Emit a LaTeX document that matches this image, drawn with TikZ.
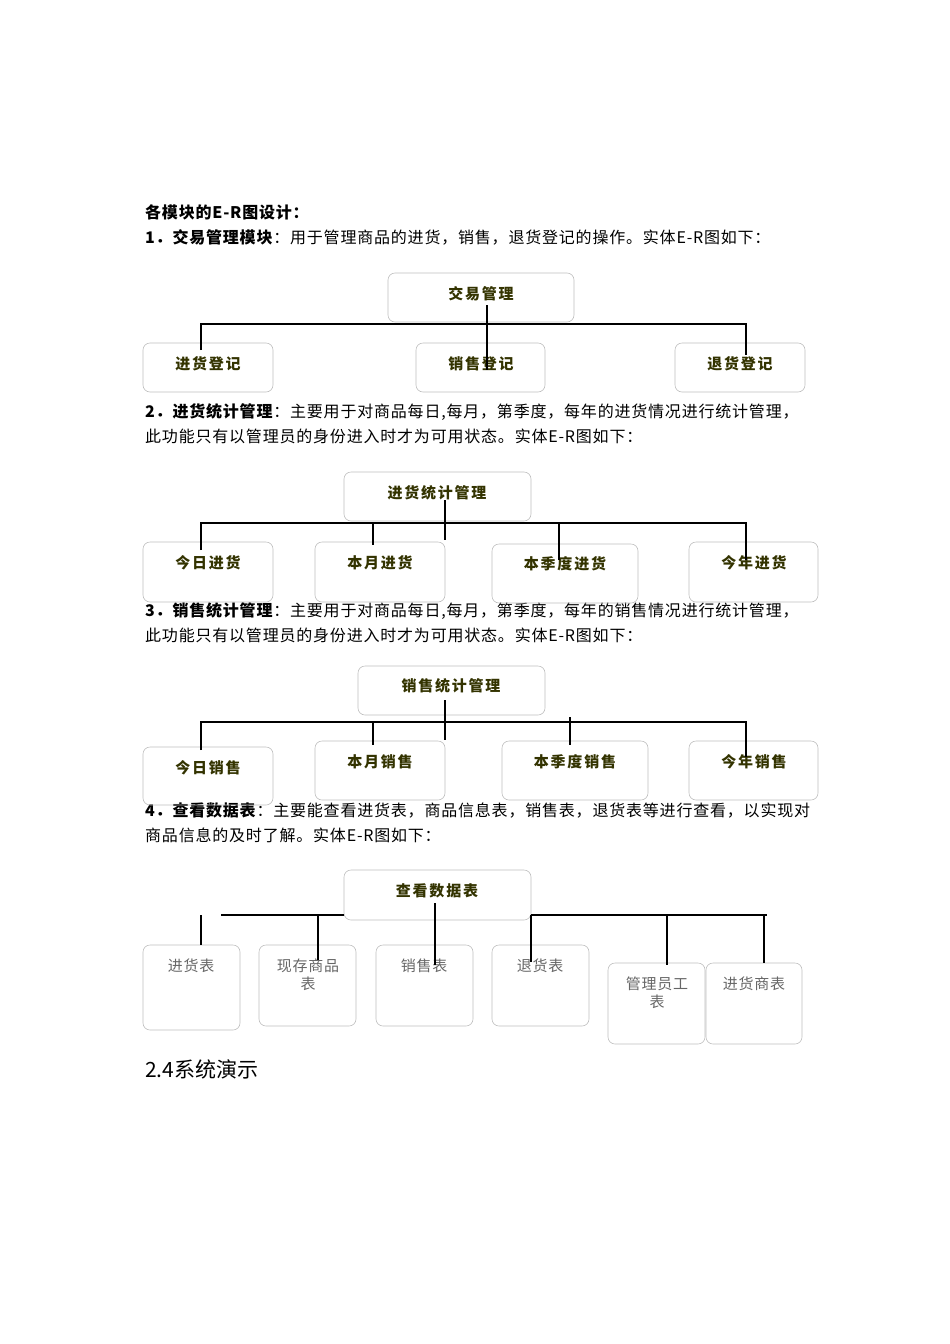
\documentclass[tikz,border=0pt]{standalone}
\usepackage{fontspec}
\setmainfont{Noto Sans CJK SC}
\newfontfamily\cjkb[LetterSpace=12]{Noto Sans CJK SC}
\newfontfamily\cjkp[LetterSpace=5]{Noto Sans CJK SC}
\definecolor{olive}{HTML}{333300}
\begin{document}
\begin{tikzpicture}[x=1pt,y=-1pt,
  box/.style={draw=black!25,rounded corners=7pt,line width=0.6pt},
  lbl/.style={font=\cjkb\fontsize{15}{17}\selectfont\bfseries,text=olive},
  tl/.style={font=\cjkp\fontsize{15}{18}\selectfont,text=black!60,align=center,text width=92pt,anchor=north},
  ln/.style={line width=1.6pt},
  para/.style={anchor=base west,inner sep=0pt,font=\cjkp\fontsize{16}{19}\selectfont}]
\useasboundingbox (0,0) rectangle (950,1344);
% text
\node[para] (h0) at (145,218) {\textbf{各模块的E-R图设计：}};
\node[para] (p1) at (145,243) {\textbf{1．交易管理模块}：用于管理商品的进货，销售，退货登记的操作。实体E-R图如下：};
\node[para] (p2a) at (145,417) {\textbf{2．进货统计管理}：主要用于对商品每日,每月，第季度，每年的进货情况进行统计管理，};
\node[para] (p2b) at (145,442) {此功能只有以管理员的身份进入时才为可用状态。实体E-R图如下：};
\node[para] (p3a) at (145,616) {\textbf{3．销售统计管理}：主要用于对商品每日,每月，第季度，每年的销售情况进行统计管理，};
\node[para] (p3b) at (145,641) {此功能只有以管理员的身份进入时才为可用状态。实体E-R图如下：};
\node[para] (p4a) at (145,816) {\textbf{4．查看数据表}：主要能查看进货表，商品信息表，销售表，退货表等进行查看，以实现对};
\node[para] (p4b) at (145,841) {商品信息的及时了解。实体E-R图如下：};
\node[para,font=\fontsize{21}{24}\selectfont] (s24) at (145,1077) {2.4系统演示};
% section 1
\draw[box] (388,273) rectangle (574,322); \node[lbl] (a0) at (481,294) {交易管理};
\draw[box] (143,343) rectangle (273,392); \node[lbl] (a1) at (208,364) {进货登记};
\draw[box] (416,343) rectangle (545,392); \node[lbl] (a2) at (481,364) {销售登记};
\draw[box] (675,343) rectangle (805,392); \node[lbl] (a3) at (740,364) {退货登记};
\draw[ln] (201,350) |- (746,324) -- (746,355);
\draw[ln] (487,305) -- (487,370);
% section 2
\draw[box] (344,472) rectangle (531,521); \node[lbl] (b0) at (437,493) {进货统计管理};
\draw[box] (143,542) rectangle (273,602); \node[lbl] (b1) at (208,563) {今日进货};
\draw[box] (315,542) rectangle (445,602); \node[lbl] (b2) at (380,563) {本月进货};
\draw[box] (492,544) rectangle (638,603); \node[lbl] (b3) at (565,564) {本季度进货};
\draw[box] (689,542) rectangle (818,602); \node[lbl] (b4) at (754,563) {今年进货};
\draw[ln] (201,550) |- (746,523) -- (746,560);
\draw[ln] (373,523) -- (373,545);
\draw[ln] (445,500) -- (445,540);
\draw[ln] (559,523) -- (559,560);
% section 3
\draw[box] (358,666) rectangle (545,715); \node[lbl] (c0) at (451,686) {销售统计管理};
\draw[box] (143,747) rectangle (273,805); \node[lbl] (c1) at (208,768) {今日销售};
\draw[box] (315,741) rectangle (445,800); \node[lbl] (c2) at (380,762) {本月销售};
\draw[box] (502,741) rectangle (648,800); \node[lbl] (c3) at (575,762) {本季度销售};
\draw[box] (689,741) rectangle (818,800); \node[lbl] (c4) at (754,762) {今年销售};
\draw[ln] (201,750) |- (746,722) -- (746,757);
\draw[ln] (373,722) -- (373,745);
\draw[ln] (445,700) -- (445,740);
\draw[ln] (570,717) -- (570,745);
% section 4
\draw[box] (344,870) rectangle (531,920); \node[lbl] (d0) at (437,891) {查看数据表};
\draw[box] (143,945) rectangle (240,1030); \node[tl] (d1) at (191,955) {进货表};
\draw[box] (259,945) rectangle (356,1026); \node[tl] (d2) at (308,955) {现存商品\\表};
\draw[box] (376,945) rectangle (473,1026); \node[tl] (d3) at (424,955) {销售表};
\draw[box] (492,945) rectangle (589,1026); \node[tl] (d4) at (540,955) {退货表};
\draw[box] (608,963) rectangle (705,1044); \node[tl] (d5) at (657,973) {管理员工\\表};
\draw[box] (706,963) rectangle (802,1044); \node[tl] (d6) at (754,973) {进货商表};
\draw[ln] (221,915) -- (344,915);
\draw[ln] (531,915) -- (767,915);
\draw[ln] (201,915) -- (201,945);
\draw[ln] (318,915) -- (318,960);
\draw[ln] (435,903) -- (435,965);
\draw[ln] (531,915) -- (531,962);
\draw[ln] (667,915) -- (667,965);
\draw[ln] (764,915) -- (764,963);
\end{tikzpicture}
\end{document}
